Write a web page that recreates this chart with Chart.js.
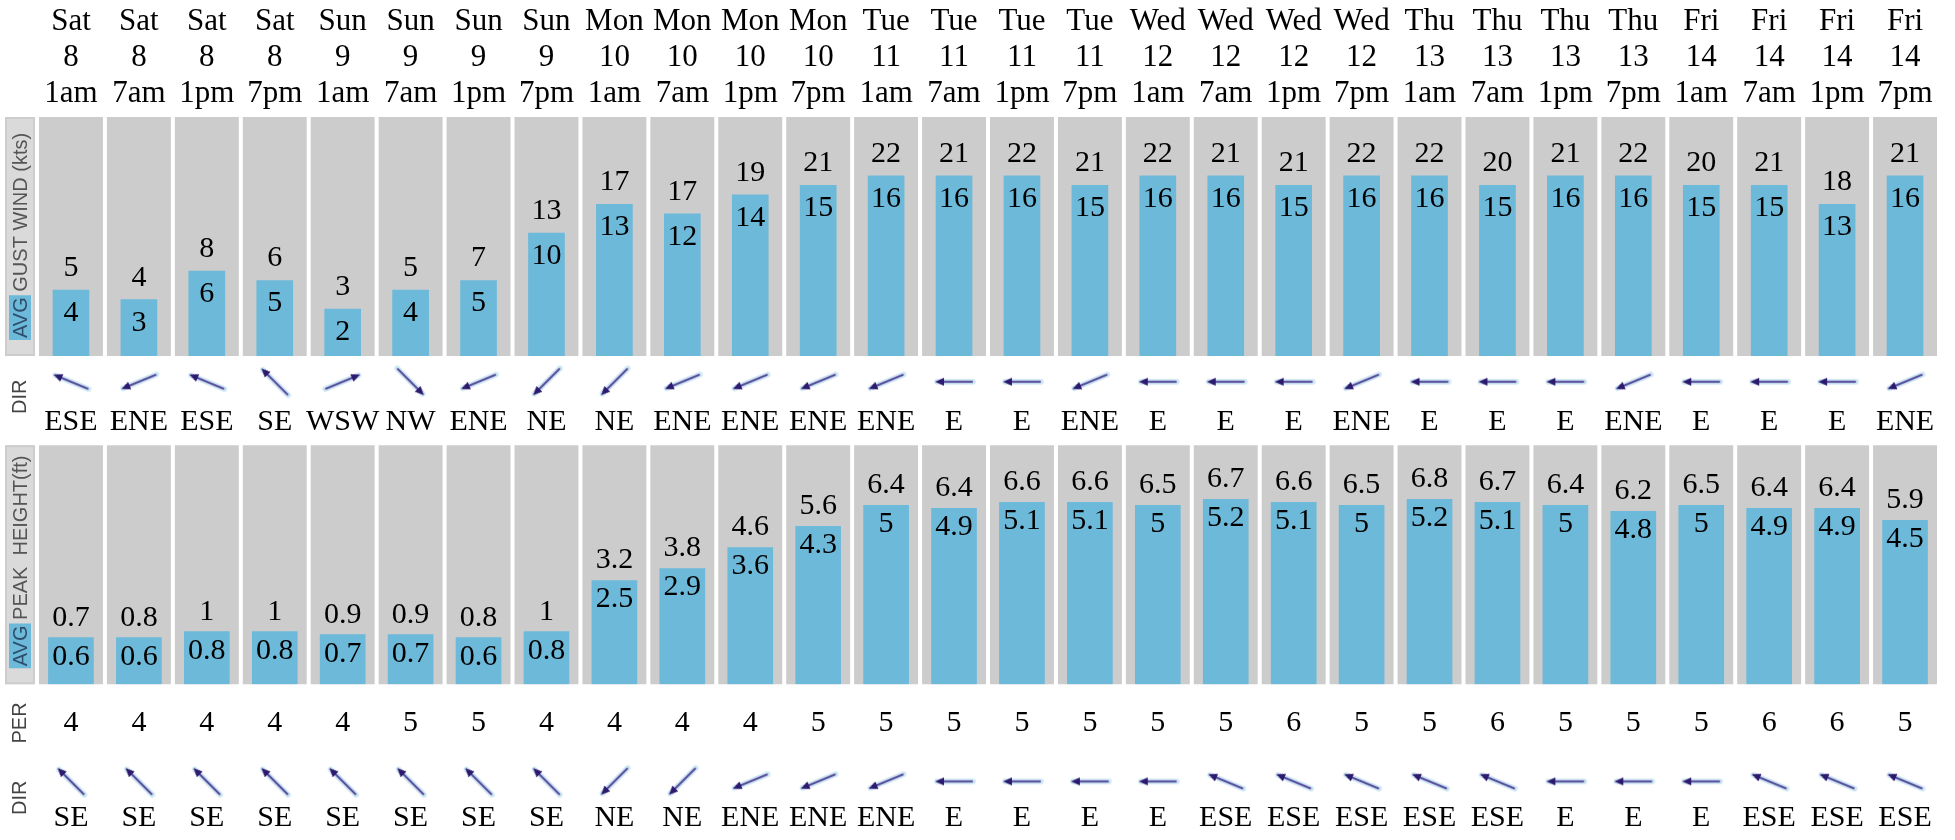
<!DOCTYPE html>
<html><head><meta charset="utf-8">
<script src="https://cdn.jsdelivr.net/npm/chart.js@4"></script>
<style>html,body{margin:0;padding:0;background:#fff;}canvas{display:block;}</style>
</head><body>
<canvas id="c" width="1955" height="840"></canvas>
<script>
// ---- data ----
const days  = ['Sat','Sat','Sat','Sat','Sun','Sun','Sun','Sun','Mon','Mon','Mon','Mon','Tue','Tue','Tue','Tue','Wed','Wed','Wed','Wed','Thu','Thu','Thu','Thu','Fri','Fri','Fri','Fri'];
const dates = ['8','8','8','8','9','9','9','9','10','10','10','10','11','11','11','11','12','12','12','12','13','13','13','13','14','14','14','14'];
const times = ['1am','7am','1pm','7pm','1am','7am','1pm','7pm','1am','7am','1pm','7pm','1am','7am','1pm','7pm','1am','7am','1pm','7pm','1am','7am','1pm','7pm','1am','7am','1pm','7pm'];
const windAvg  = [4,3,6,5,2,4,5,10,13,12,14,15,16,16,16,15,16,16,15,16,16,15,16,16,15,15,13,16];
const windGust = [5,4,8,6,3,5,7,13,17,17,19,21,22,21,22,21,22,21,21,22,22,20,21,22,20,21,18,21];
const windDir  = ['ESE','ENE','ESE','SE','WSW','NW','ENE','NE','NE','ENE','ENE','ENE','ENE','E','E','ENE','E','E','E','ENE','E','E','E','ENE','E','E','E','ENE'];
const waveAvg  = [0.6,0.6,0.8,0.8,0.7,0.7,0.6,0.8,2.5,2.9,3.6,4.3,5,4.9,5.1,5.1,5,5.2,5.1,5,5.2,5.1,5,4.8,5,4.9,4.9,4.5];
const wavePeak = [0.7,0.8,1,1,0.9,0.9,0.8,1,3.2,3.8,4.6,5.6,6.4,6.4,6.6,6.6,6.5,6.7,6.6,6.5,6.8,6.7,6.4,6.2,6.5,6.4,6.4,5.9];
const wavePeriod = [4,4,4,4,4,5,5,4,4,4,4,5,5,5,5,5,5,5,6,5,5,6,5,5,5,6,6,5];
const waveDir  = ['SE','SE','SE','SE','SE','SE','SE','SE','NE','NE','ENE','ENE','ENE','E','E','E','E','ESE','ESE','ESE','ESE','ESE','E','E','E','ESE','ESE','ESE'];

const COMPASS = {N:0,NNE:22.5,NE:45,ENE:67.5,E:90,ESE:112.5,SE:135,SSE:157.5,S:180,SSW:202.5,SW:225,WSW:247.5,W:270,WNW:292.5,NW:315,NNW:337.5};
const labels = days.map((d, i) => [d, dates[i], times[i]]);

const SERIF = "'Liberation Serif', serif";
const SANS = "'Liberation Sans', sans-serif";
const BLUE = '#6cb9da';
const GRAY = '#cccccc';

function makeArrow() {
  const c = document.createElement('canvas');
  c.width = 48; c.height = 48;
  const g = c.getContext('2d');
  const cx = 24, top = 5, bot = 43;
  g.lineCap = 'round';
  g.strokeStyle = 'rgba(185,222,238,0.75)'; g.lineWidth = 5.5;
  g.beginPath(); g.moveTo(cx, top + 2); g.lineTo(cx, bot); g.stroke();
  g.strokeStyle = '#5d52a0'; g.lineWidth = 2.2;
  g.beginPath(); g.moveTo(cx, top + 6); g.lineTo(cx, bot - 1); g.stroke();
  g.fillStyle = '#2c1a6e';
  g.beginPath(); g.moveTo(cx, top); g.lineTo(cx - 4, top + 9); g.lineTo(cx + 4, top + 9); g.closePath(); g.fill();
  return c;
}

function sidePanel(ctx, ax, first, rest) {
  ctx.save();
  ctx.fillStyle = '#dadada';
  ctx.fillRect(5, ax.top, 30, ax.bottom - ax.top);
  ctx.strokeStyle = '#cdcdcd'; ctx.lineWidth = 2;
  ctx.strokeRect(6, ax.top + 1, 28, ax.bottom - ax.top - 2);
  ctx.translate(20, ax.bottom - 18);
  ctx.rotate(-Math.PI / 2);
  ctx.font = '20px ' + SANS;
  ctx.textBaseline = 'middle'; ctx.textAlign = 'left';
  const w = ctx.measureText(first).width;
  ctx.fillStyle = BLUE; ctx.fillRect(-2, -11, w + 4, 22);
  ctx.fillStyle = '#2e4d6c'; ctx.fillText(first, 0, 1);
  ctx.fillStyle = '#555'; ctx.fillText(rest, w, 1);
  ctx.restore();
}
function vLabel(ctx, text, y) {
  ctx.save();
  ctx.translate(19, y); ctx.rotate(-Math.PI / 2);
  ctx.font = '20px ' + SANS; ctx.fillStyle = '#444';
  ctx.textAlign = 'center'; ctx.textBaseline = 'middle';
  ctx.fillText(text, 0, 1);
  ctx.restore();
}

const rowsPlugin = {
  id: 'rows',
  beforeDatasetsDraw(chart) {
    const {ctx, scales: {x, yWind, yWave}} = chart;
    const pitch = x.getPixelForValue(1) - x.getPixelForValue(0);
    ctx.save();
    ctx.fillStyle = GRAY;
    for (const ax of [yWind, yWave]) {
      for (let i = 0; i < labels.length; i++) {
        const cx = x.getPixelForValue(i);
        ctx.fillRect(cx - (pitch - 4) / 2, ax.top, pitch - 4, ax.bottom - ax.top);
      }
    }
    ctx.restore();
    sidePanel(ctx, yWind, 'AVG', ' GUST WIND (kts)');
    sidePanel(ctx, yWave, 'AVG', ' PEAK  HEIGHT(ft)');
  },
  afterDatasetsDraw(chart) {
    const {ctx, scales: {x, yAr1, yTx1, yPer, yAr2, yTx2}} = chart;
    ctx.save();
    ctx.fillStyle = '#000';
    ctx.textAlign = 'center'; ctx.textBaseline = 'middle';
    ctx.font = '30px ' + SERIF;
    chart.getDatasetMeta(0).data.forEach((b, i) => {
      ctx.fillText(String(windGust[i]), b.x, b.y - 22);
      ctx.fillText(String(windAvg[i]), b.x, b.y + 23);
    });
    chart.getDatasetMeta(1).data.forEach((b, i) => {
      ctx.fillText(String(wavePeak[i]), b.x, b.y - 20);
      ctx.fillText(String(waveAvg[i]), b.x, b.y + 19);
    });
    const cy1 = (yTx1.top + yTx1.bottom) / 2;
    const cyP = (yPer.top + yPer.bottom) / 2;
    const cy2 = (yTx2.top + yTx2.bottom) / 2;
    for (let i = 0; i < labels.length; i++) {
      const cx = x.getPixelForValue(i);
      ctx.fillText(windDir[i], cx, cy1);
      ctx.fillText(String(wavePeriod[i]), cx, cyP);
      ctx.fillText(waveDir[i], cx, cy2);
    }
    ctx.restore();
    vLabel(ctx, 'DIR', (yAr1.top + yTx1.bottom) / 2);
    vLabel(ctx, 'PER', cyP);
    vLabel(ctx, 'DIR', (yAr2.top + yTx2.bottom) / 2);
  }
};

// warm up the serif face on a scratch canvas
(function () {
  const s = document.createElement('canvas').getContext('2d');
  s.font = '30px ' + SERIF; s.fillText('Sat 8 1am ESE 0.6', 0, 20);
  s.font = '20px ' + SANS; s.fillText('AVG', 0, 40);
})();

const arrow = makeArrow();
Chart.defaults.font.family = SERIF;
new Chart(document.getElementById('c'), {
  type: 'bar',
  data: {
    labels,
    datasets: [
      {label: 'wind', data: windAvg, yAxisID: 'yWind', backgroundColor: BLUE, barThickness: 36, grouped: false, base: -2.92, order: 1},
      {label: 'wave', data: waveAvg, yAxisID: 'yWave', backgroundColor: BLUE, barThickness: 45, grouped: false, base: -0.95, order: 1},
      {type: 'line', label: 'windDir', data: windDir.map(() => 0), yAxisID: 'yAr1', showLine: false,
       pointStyle: arrow, pointRadius: 5, pointHoverRadius: 5,
       pointRotation: c => COMPASS[windDir[c.dataIndex]] + 180, order: 0},
      {type: 'line', label: 'waveDir', data: waveDir.map(() => 0), yAxisID: 'yAr2', showLine: false,
       pointStyle: arrow, pointRadius: 5, pointHoverRadius: 5,
       pointRotation: c => COMPASS[waveDir[c.dataIndex]] + 180, order: 0}
    ]
  },
  options: {
    responsive: false,
    animation: false,
    events: [],
    layout: {padding: {left: 37, right: 16, top: 0, bottom: 0}},
    plugins: {legend: {display: false}, tooltip: {enabled: false}, title: {display: false}},
    scales: {
      x: {
        type: 'category', position: 'top', offset: true,
        grid: {display: false, drawTicks: false}, border: {display: false},
        ticks: {color: '#000', font: {family: SERIF, size: 31, lineHeight: 1.16}, padding: 5, autoSkip: false, maxRotation: 0, minRotation: 0},
        afterFit: s => { s.height = 117; }
      },
      yWind: {type: 'linear', position: 'left', stack: 'rows', stackWeight: 241, weight: 8, min: -2.92, max: 22.18, display: false},
      yAr1:  {type: 'linear', position: 'left', stack: 'rows', stackWeight: 52, weight: 7, min: -1, max: 1, display: false},
      yTx1:  {type: 'linear', position: 'left', stack: 'rows', stackWeight: 30, weight: 6, min: 0, max: 1, display: false},
      ySp:   {type: 'linear', position: 'left', stack: 'rows', stackWeight: 8, weight: 5, min: 0, max: 1, display: false},
      yWave: {type: 'linear', position: 'left', stack: 'rows', stackWeight: 241, weight: 4, min: -0.95, max: 7.0, display: false},
      yPer:  {type: 'linear', position: 'left', stack: 'rows', stackWeight: 78, weight: 3, min: 0, max: 1, display: false},
      yAr2:  {type: 'linear', position: 'left', stack: 'rows', stackWeight: 40, weight: 2, min: -1, max: 1, display: false},
      yTx2:  {type: 'linear', position: 'left', stack: 'rows', stackWeight: 33, weight: 1, min: 0, max: 1, display: false}
    }
  },
  plugins: [rowsPlugin]
});
</script>
</body></html>
